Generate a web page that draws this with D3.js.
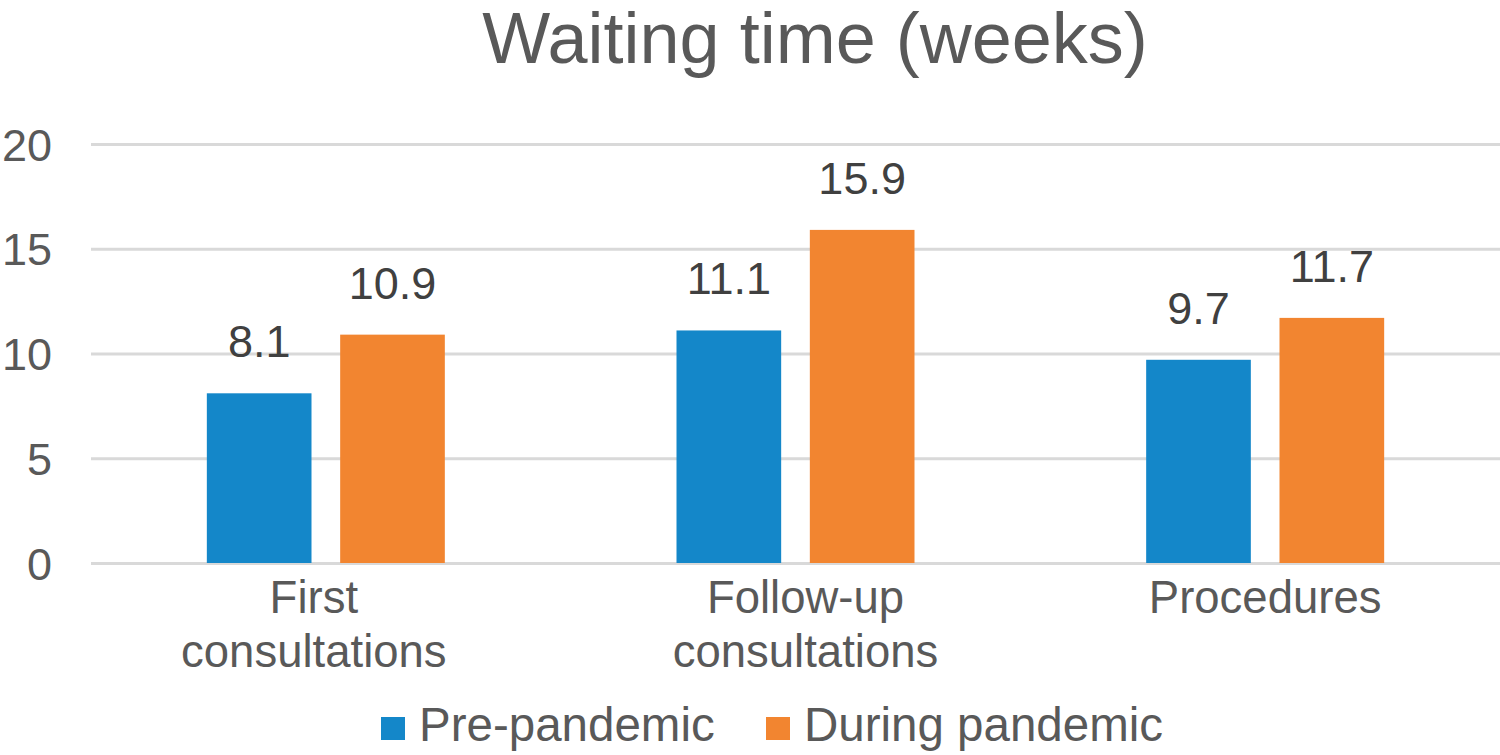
<!DOCTYPE html>
<html>
<head>
<meta charset="utf-8">
<script src="https://cdn.jsdelivr.net/npm/d3@7"></script>
<style>
  html, body { margin: 0; padding: 0; background: #fff; }
  svg { display: block; }
  text { font-family: "Liberation Sans", Arial, Helvetica, sans-serif; }
</style>
</head>
<body>
<svg id="chart" width="1500" height="755"></svg>
<script>
const categories = [["First", "consultations"], ["Follow-up", "consultations"], ["Procedures"]];
const seriesNames = ["Pre-pandemic", "During pandemic"];
const prePandemic = [8.1, 11.1, 9.7];
const duringPandemic = [10.9, 15.9, 11.7];
const yTicks = [0, 5, 10, 15, 20];
const title = "Waiting time (weeks)";
const colors = ["#1487C9", "#F28530"];

(function () {
const svg = d3.select("#chart");
const plotLeft = 91, plotRight = 1500, plotTop = 144, plotBottom = 563;
const catLabelNudge = [-12, 10, 0];

const catKeys = categories.map((c, i) => i);
const x0 = d3.scaleBand().domain(catKeys).range([plotLeft, plotRight]).paddingInner(0).paddingOuter(0);
const groupWidth = 238;
const x1 = d3.scaleBand().domain([0, 1]).range([0, groupWidth]).paddingInner(0.215).paddingOuter(0);
const y = d3.scaleLinear().domain([0, 20]).range([plotBottom, plotTop]);

// title
svg.append("text")
  .attr("x", 815).attr("y", 63)
  .attr("text-anchor", "middle")
  .attr("font-size", 72)
  .attr("fill", "#595959")
  .text(title);

// gridlines via axis
const yAxis = d3.axisLeft(y).tickValues(yTicks).tickSize(-(plotRight - plotLeft)).tickFormat(d3.format("d"));
const gy = svg.append("g").attr("transform", `translate(${plotLeft},0)`).call(yAxis);
gy.select(".domain").remove();
gy.selectAll(".tick line").attr("stroke", "#D9D9D9").attr("stroke-width", 3);
gy.selectAll(".tick text")
  .attr("x", -39)
  .attr("dy", "0.36em")
  .attr("font-size", 45)
  .attr("fill", "#595959")
  .attr("font-family", "Liberation Sans, Arial, sans-serif");

// bars
const data = catKeys.map(i => ({ cat: i, values: [prePandemic[i], duringPandemic[i]] }));
const groups = svg.append("g").selectAll("g")
  .data(data).join("g")
  .attr("transform", d => `translate(${x0(d.cat) + (x0.bandwidth() - groupWidth) / 2},0)`);

groups.selectAll("rect")
  .data(d => d.values.map((v, s) => ({ v, s })))
  .join("rect")
  .attr("x", d => x1(d.s))
  .attr("width", x1.bandwidth())
  .attr("y", d => y(d.v))
  .attr("height", d => y(0) - y(d.v))
  .attr("fill", d => colors[d.s]);

groups.selectAll("text.lbl")
  .data(d => d.values.map((v, s) => ({ v, s })))
  .join("text")
  .attr("class", "lbl")
  .attr("x", d => x1(d.s) + x1.bandwidth() / 2)
  .attr("y", d => y(d.v) - 36)
  .attr("text-anchor", "middle")
  .attr("font-size", 45)
  .attr("fill", "#404040")
  .text(d => d3.format(".1f")(d.v));

// category labels
const catG = svg.append("g");
categories.forEach((lines, i) => {
  const cx = x0(i) + x0.bandwidth() / 2 + catLabelNudge[i];
  const t = catG.append("text")
    .attr("x", cx)
    .attr("y", 613)
    .attr("text-anchor", "middle")
    .attr("font-size", 45.5)
    .attr("fill", "#595959");
  lines.forEach((ln, j) => {
    t.append("tspan")
      .attr("x", cx)
      .attr("dy", j === 0 ? 0 : 54)
      .text(ln);
  });
});

// legend
const legendItems = [{ name: seriesNames[0], x: 381 }, { name: seriesNames[1], x: 766 }];
const lg = svg.append("g");
legendItems.forEach((it, i) => {
  lg.append("rect")
    .attr("x", it.x).attr("y", 717)
    .attr("width", 24).attr("height", 23)
    .attr("fill", colors[i]);
  lg.append("text")
    .attr("x", it.x + 38).attr("y", 741)
    .attr("font-size", 47.5)
    .attr("fill", "#595959")
    .text(it.name);
});
})();
</script>
</body>
</html>
